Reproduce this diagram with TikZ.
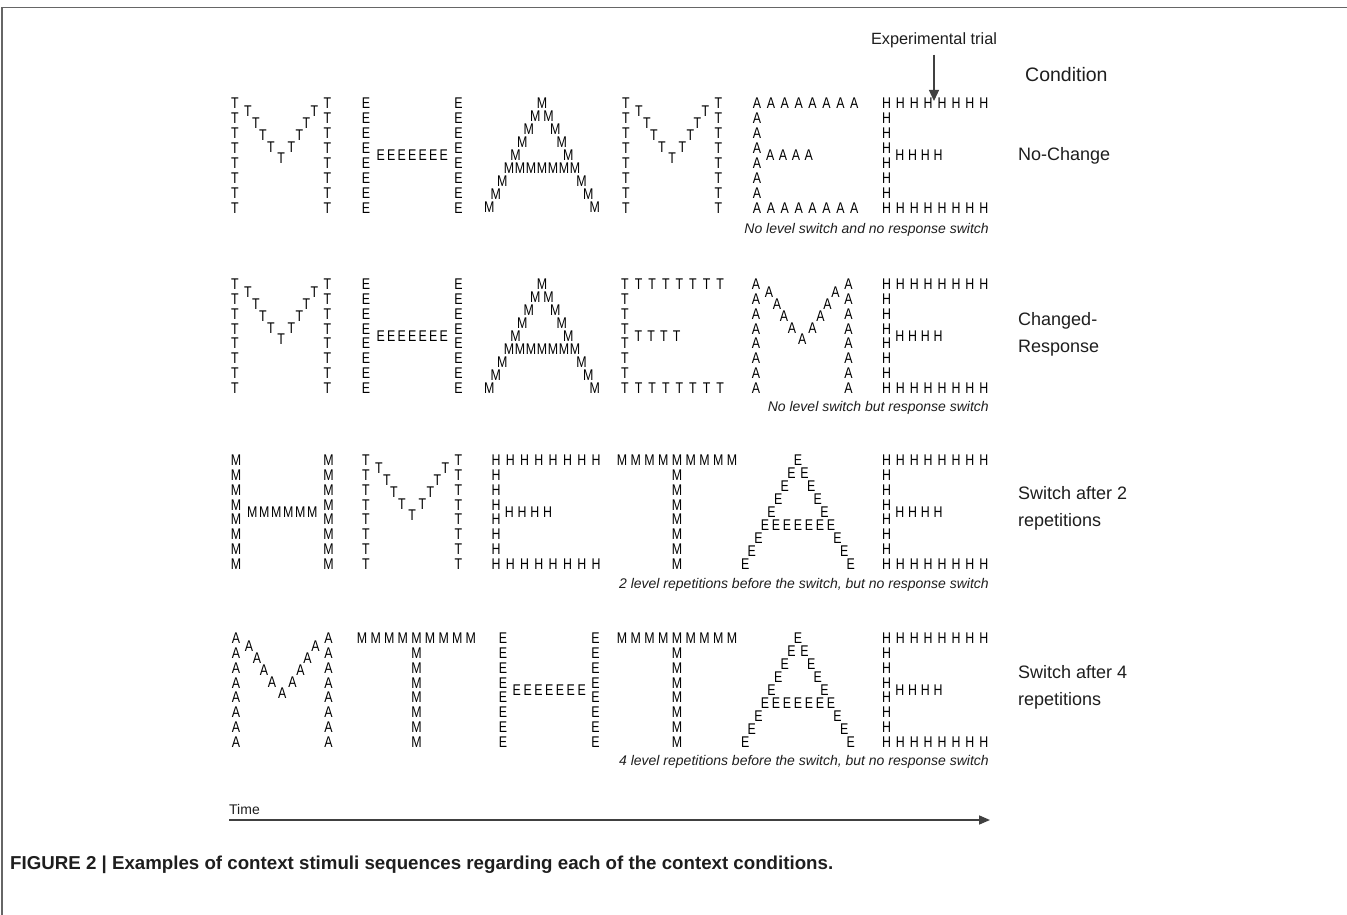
\documentclass[tikz,border=0pt]{standalone}
\usepackage{fontspec}
\setmainfont{Liberation Sans}
\newfontfamily\navfont[FakeStretch=0.8]{Liberation Sans}
\usetikzlibrary{arrows.meta}
\definecolor{ink}{HTML}{1E1E1E}
\definecolor{framegray}{HTML}{666666}
\tikzset{
  ll/.style={inner sep=0pt, font=\navfont\fontsize{15.5}{15.5}\selectfont, text=black},
  cond/.style={anchor=west, inner sep=0pt, align=left, font=\fontsize{18}{27}\selectfont, text=ink},
  note/.style={anchor=east, inner sep=0pt, font=\fontsize{14}{16}\selectfont\itshape, text=ink},
  pointer/.style={draw=ink!85, line width=1.4pt, -{Triangle[length=11pt,width=9pt]}},
}
% M-shaped global letter: left column at x0, top row at y0
\newcommand\NavM[3]{%
  \foreach \k in {0,...,7}{%
    \node[ll] at ({#1},{#2+14.9*\k}) {#3};
    \node[ll] at ({#1+92.5},{#2+14.9*\k}) {#3};}
  \foreach \dx/\dy in {13/8,21/20,28/32,36/44,46.25/55,56.5/44,64.5/32,71.5/20,79.5/8}
    \node[ll] at ({#1+\dx},{#2+\dy}) {#3};
}
% H-shaped: columns, bar of n letters with given pitch
\newcommand\NavH[5]{%
  \foreach \k in {0,...,7}{%
    \node[ll] at ({#1},{#2+14.9*\k}) {#3};
    \node[ll] at ({#1+92.5},{#2+14.9*\k}) {#3};}
  \foreach \i in {1,...,#4}
    \node[ll] at ({#1+46.25-(#4+1)/2*#5+\i*#5},{#2+52}) {#3};
}
% E-shaped: top/bottom rows of 8 with pitch #4, middle of 4
\newcommand\NavE[4]{%
  \foreach \i in {0,...,7}{%
    \node[ll] at ({#1+#4*\i},{#2}) {#3};
    \node[ll] at ({#1+#4*\i},{#2+104.3}) {#3};}
  \foreach \k in {1,...,6}
    \node[ll] at ({#1},{#2+14.9*\k}) {#3};
  \foreach \i in {1,...,4}
    \node[ll] at ({#1+0.5+12.8*\i},{#2+52}) {#3};
}
% T-shaped: centre x, top row of 9 with pitch #4, stem of 7
\newcommand\NavT[4]{%
  \foreach \i in {-4,...,4}
    \node[ll] at ({#1+#4*\i},{#2}) {#3};
  \foreach \k in {1,...,7}
    \node[ll] at ({#1},{#2+14.9*\k}) {#3};
}
% A-shaped: apex x, top y
\newcommand\NavA[3]{%
  \node[ll] at ({#1},{#2}) {#3};
  \foreach \k in {1,2,3,4,6,7,8}{%
    \node[ll] at ({#1-6.6*\k},{#2+13*\k}) {#3};
    \node[ll] at ({#1+6.6*\k},{#2+13*\k}) {#3};}
  \foreach \i in {0,...,6}
    \node[ll] at ({#1-33+11*\i},{#2+65}) {#3};
}
\begin{document}
\begin{tikzpicture}[x=1pt,y=-1pt]
\useasboundingbox (0,0) rectangle (1347,915);
% frame
\draw[framegray, line width=1.5pt] (2,915) -- (2,7.5) -- (1347,7.5);

% header
\node[inner sep=0pt, outer sep=7pt, font=\fontsize{16.3}{18}\selectfont, text=ink] (exp) at (934,40) {Experimental trial};
\coordinate (expTip) at (934,101);
\draw[pointer, line width=1.2pt, -{Triangle[length=11pt,width=10pt]}] (exp) -- (expTip);
\node[anchor=west, inner sep=0pt, font=\fontsize{19.5}{22}\selectfont, text=ink] (condHead) at (1025,75) {Condition};

% row 1: No-Change
\NavM{235}{103.5}{T}
\NavH{366}{103.5}{E}{7}{10.5}
\NavA{542}{103.5}{M}
\NavM{626}{103.5}{T}
\NavE{757}{103.5}{A}{13.9}
\NavE{886.5}{103.5}{H}{13.9}
\node[note] (n1) at (989,230) {No level switch and no response switch};
\node[cond] (c1) at (1018,156) {No-Change};

% row 2: Changed-Response
\NavM{235}{284}{T}
\NavH{366}{284}{E}{7}{10.5}
\NavA{542}{284}{M}
\NavE{625}{284}{T}{13.6}
\NavM{756}{284}{A}
\NavE{886.5}{284}{H}{13.9}
\node[note] (n2) at (989,408) {No level switch but response switch};
\node[cond] (c2) at (1018,334.5) {Changed-\\Response};

% row 3: Switch after 2 repetitions
\NavH{236}{460}{M}{6}{12}
\NavM{366}{460}{T}
\NavE{496}{460}{H}{14.3}
\NavT{677}{460}{M}{13.75}
\NavA{798}{460}{E}
\NavE{886.5}{460}{H}{13.9}
\node[note] (n3) at (989,585) {2 level repetitions before the switch, but no response switch};
\node[cond] (c3) at (1018,508.5) {Switch after 2\\repetitions};

% row 4: Switch after 4 repetitions
\NavM{236}{638}{A}
\NavT{416.5}{638}{M}{13.6}
\NavH{503}{638}{E}{7}{10.8}
\NavT{677}{638}{M}{13.75}
\NavA{798}{638}{E}
\NavE{886.5}{638}{H}{13.9}
\node[note] (n4) at (989,762) {4 level repetitions before the switch, but no response switch};
\node[cond] (c4) at (1018,687) {Switch after 4\\repetitions};

% time axis
\node[anchor=west, inner sep=0pt, font=\fontsize{14}{16}\selectfont, text=ink] (time) at (229,809) {Time};
\coordinate (t0) at (229,820);
\coordinate (t1) at (990,820);
\draw[pointer, line width=1.6pt] (t0) -- (t1);

% caption
\node[anchor=west, inner sep=0pt, font=\fontsize{18.7}{22}\selectfont\bfseries, text=ink] (cap) at (10,865) {FIGURE 2 | Examples of context stimuli sequences regarding each of the context conditions.};
\end{tikzpicture}
\end{document}
